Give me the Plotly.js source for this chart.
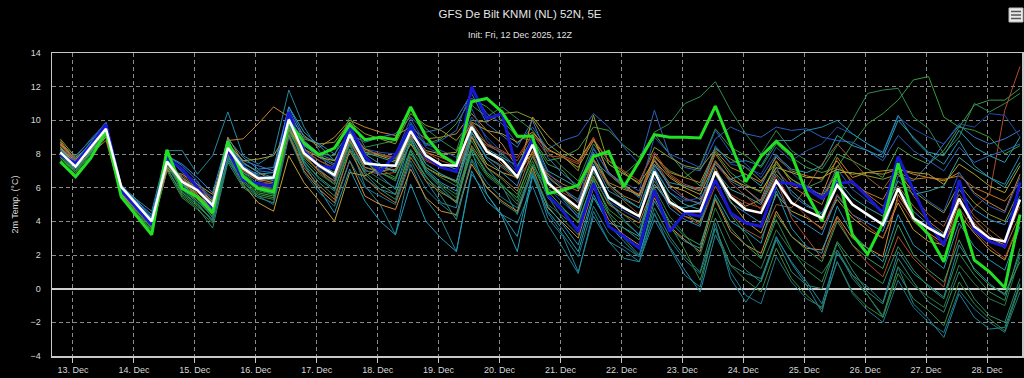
<!DOCTYPE html>
<html>
<head>
<meta charset="utf-8">
<script src="https://cdn.plot.ly/plotly-3.0.1.min.js"></script>
<style>
html,body{margin:0;padding:0;background:#000;}
#chart{width:1024px;height:378px;}
</style>
</head>
<body>
<div id="chart"></div>
<script>
// ---- data (°C, 6-hourly, local time, first step 12 Dec 19:00) ----
const startTime = '2025-12-12T19:00:00';
const stepHours = 6;
const dayTicks = ['2025-12-13','2025-12-14','2025-12-15','2025-12-16','2025-12-17','2025-12-18','2025-12-19','2025-12-20','2025-12-21','2025-12-22','2025-12-23','2025-12-24','2025-12-25','2025-12-26','2025-12-27','2025-12-28'];
const dayLabels = ['13. Dec','14. Dec','15. Dec','16. Dec','17. Dec','18. Dec','19. Dec','20. Dec','21. Dec','22. Dec','23. Dec','24. Dec','25. Dec','26. Dec','27. Dec','28. Dec'];

const ensMean = [8.1,7.25,8.4,9.5, 6.05,5.0,4.0,7.55, 6.35,5.85,4.95,8.35, 7.15,6.55,6.6,10.05,
 8.05,7.3,6.75,9.15, 7.45,7.35,7.3,9.35, 7.9,7.35,7.3,9.6, 8.15,7.65,6.65,8.55,
 6.3,5.5,4.8,7.25, 5.4,4.8,4.3,6.95, 5.15,4.6,4.6,6.95, 5.45,4.7,4.5,6.4,
 5.1,4.6,4.2,6.15, 5.0,4.4,3.8,5.95, 4.2,3.6,3.1,5.35, 3.7,3.0,2.8,5.3];

const operational = [7.55,6.65,7.75,9.35, 5.45,4.3,3.2,8.25, 5.95,5.45,4.5,8.75, 6.65,5.95,5.75,9.95,
 8.65,7.95,8.35,9.75, 8.85,9.0,8.85,10.8, 9.05,7.95,7.35,11.1, 11.3,10.5,9.05,9.05,
 5.65,5.85,6.15,7.85, 8.15,6.05,7.55,9.15, 9.0,9.0,8.95,10.85, 8.55,6.35,7.85,8.75,
 7.95,5.65,4.0,6.95, 3.2,2.05,3.9,7.45, 4.2,3.2,1.6,4.7, 1.7,1.0,0.05,4.4];

const control = [7.95,7.45,8.5,9.75, 5.85,4.85,3.8,7.75, 7.1,6.0,4.8,8.25, 6.45,6.25,6.05,10.5,
 8.15,7.3,7.15,9.65, 7.85,6.95,7.95,9.65, 7.85,7.2,6.95,12.0, 10.1,10.4,6.95,8.85,
 5.55,4.6,3.4,6.25, 3.7,3.1,2.4,5.85, 3.4,4.5,4.3,6.45, 4.5,3.9,3.7,6.3,
 6.25,5.95,5.35,6.25, 6.35,5.45,4.5,7.85, 5.85,3.9,2.6,6.45, 3.5,2.8,2.5,6.3];

const member01 = [8.6,7.9,8.8,9.9, 6.1,5.3,4.6,8.2, 8.2,6.8,7.9,10.5, 7.9,7.4,8.0,11.8, 9.6,8.2,6.5,8.6, 6.8,5.9,5.6,8.2, 6.4,5.1,4.8,9.1, 7.2,6.1,4.4,7.0, 4.2,3.1,1.0,4.3, 2.8,2.3,1.6,4.1, 2.5,1.1,-0.2,3.2, 1.4,0.9,0.6,3.0, 1.6,0.4,-0.9,2.1, 0.8,0.1,-0.8,2.2, 0.9,0.2,-0.5,2.6, 1.2,0.3,-0.4,2.1];
const member02 = [8.8,7.6,8.2,9.1, 5.7,4.9,3.9,7.4, 6.2,5.5,4.9,8.8, 8.9,9.8,10.8,10.2, 9.1,8.4,9.0,10.0, 9.6,9.3,9.1,9.6, 8.9,9.0,9.2,10.4, 9.4,8.6,7.2,8.0, 6.2,5.4,4.6,6.7, 5.0,4.4,3.9,6.2, 5.1,4.3,4.0,7.2, 5.5,4.9,5.3,7.6, 6.3,5.9,5.6,7.8, 6.6,6.9,6.8,7.1, 6.8,6.6,6.4,6.9, 5.7,5.1,4.6,6.8];
const member03 = [8.0,7.0,8.2,9.4, 5.9,4.8,3.7,7.3, 5.9,5.2,4.4,8.0, 6.9,6.2,6.3,9.7, 8.6,8.0,7.9,10.2, 8.4,8.6,8.8,10.6, 9.5,8.8,8.2,10.9, 10.2,10.8,10.1,9.4, 8.1,7.2,6.4,8.6, 7.4,6.8,7.6,9.3, 9.8,11.0,11.4,12.3, 10.6,9.2,8.0,9.4, 8.2,7.6,7.1,8.5, 10.0,11.6,11.8,11.9, 10.2,9.5,8.0,9.0, 11.0,10.5,11.0,11.6];
const member04 = [7.8,6.9,7.9,9.2, 5.5,4.4,3.5,7.8, 5.6,4.9,4.1,7.9, 6.3,5.6,5.4,9.6, 8.5,7.9,7.4,9.5, 8.1,8.0,7.7,9.4, 8.6,8.9,9.8,11.3, 10.8,10.0,9.0,8.8, 7.4,7.0,5.9,7.6, 6.8,6.0,5.5,7.8, 7.0,6.6,7.3,9.5, 8.4,7.9,7.2,8.6, 7.8,7.2,6.9,7.2, 8.6,9.8,10.4,11.2, 12.4,12.6,10.2,9.6, 9.4,9.0,8.0,8.5];
const member05 = [7.6,6.8,7.8,9.0, 5.6,4.5,3.4,7.1, 5.7,5.0,4.0,7.7, 6.4,5.7,5.5,9.3, 7.8,7.0,6.2,8.7, 7.2,6.9,6.5,8.8, 7.4,6.8,6.3,9.5, 8.6,8.0,7.2,8.9, 7.6,7.8,8.3,9.6, 9.4,8.5,7.8,9.2, 8.0,6.9,6.1,8.1, 6.9,6.2,5.7,7.4, 6.5,6.0,6.4,8.0, 7.6,7.1,6.6,8.4, 7.8,7.4,8.2,9.6, 10.9,11.2,11.2,11.9];
const member06 = [8.4,7.5,8.3,9.3, 5.8,4.6,3.8,7.2, 6.7,6.1,5.3,8.4, 6.8,6.0,5.9,9.8, 8.0,6.9,6.2,8.9, 7.0,6.8,6.9,8.6, 7.6,7.2,7.0,9.2, 8.5,8.1,7.8,9.2, 8.2,7.9,7.5,9.0, 6.8,6.1,5.6,7.7, 6.2,5.4,5.0,7.0, 5.6,5.1,4.8,6.5, 4.2,3.0,1.8,4.2, 2.6,1.5,0.7,3.1, 1.8,0.9,0.1,3.5, 4.8,5.6,10.6,13.2];
const member07 = [8.3,7.8,8.9,9.8, 6.0,5.1,4.2,7.9, 6.9,6.2,5.4,8.6, 7.4,7.0,6.9,10.4, 8.4,7.1,6.3,8.9, 7.0,6.9,7.3,9.8, 8.5,8.8,9.4,11.8, 10.4,9.8,8.6,9.6, 8.3,8.8,9.1,10.4, 9.6,8.4,7.4,10.6, 7.9,7.2,7.0,8.9, 9.6,9.2,9.0,9.6, 9.4,9.5,9.0,8.8, 8.7,8.2,7.6,9.1, 8.2,7.6,7.0,8.4, 7.5,7.9,8.2,8.6];
const member08 = [8.2,7.3,8.3,9.6, 6.0,5.2,4.3,7.6, 6.2,5.4,4.2,7.8, 6.6,5.9,5.6,9.8, 7.6,6.5,5.8,8.6, 6.1,5.0,3.2,7.4, 5.3,4.1,2.2,6.8, 5.6,4.4,3.9,6.1, 3.8,2.4,0.9,4.6, 2.8,1.8,1.6,4.5, 2.4,0.8,0.1,3.9, 0.6,-0.8,0.5,3.1, 1.5,0.2,-1.4,2.3, 0.6,-0.4,-1.7,1.3, -0.9,-1.8,-2.9,-0.3, -1.7,-2.4,-2.3,0.3];
const member09 = [8.7,7.5,8.1,9.2, 5.6,4.6,3.6,7.0, 6.8,6.2,5.6,8.2, 6.2,5.1,4.6,7.9, 6.3,5.2,4.0,6.9, 6.7,7.2,7.0,8.6, 7.2,6.7,6.4,9.0, 7.4,6.9,6.6,10.2, 9.1,8.2,7.6,8.9, 6.9,6.2,5.5,7.4, 6.1,5.8,5.3,6.8, 5.2,4.0,3.3,5.6, 4.6,4.2,3.6,5.3, 4.2,3.5,3.0,5.1, 3.5,2.8,2.6,4.4, 3.3,2.3,1.7,4.0];
const member10 = [7.9,7.1,8.2,9.5, 6.1,5.3,4.1,7.7, 6.5,5.8,4.6,8.8, 7.2,6.8,6.9,10.8, 9.3,8.5,7.6,9.4, 8.0,7.4,6.9,9.0, 6.9,6.0,5.1,8.2, 5.6,4.3,2.2,6.7, 4.6,3.5,2.2,5.4, 3.9,3.6,3.1,6.2, 5.0,4.8,5.1,7.6, 6.5,6.8,6.1,7.9, 7.1,6.9,7.3,9.1, 8.5,8.2,7.8,10.0, 9.0,8.1,7.9,9.4, 8.4,7.9,7.5,9.0];
const member11 = [8.5,7.6,8.6,9.6, 6.0,5.0,3.9,7.4, 6.0,5.3,4.6,8.0, 6.7,6.0,6.0,9.9, 8.2,7.6,7.1,9.4, 8.0,7.9,7.8,9.0, 7.7,7.2,6.9,9.1, 7.8,7.2,6.5,7.8, 6.3,5.7,5.2,7.6, 6.1,5.2,4.4,6.4, 5.0,4.3,3.8,6.1, 4.5,3.5,3.0,5.0, 4.8,6.0,7.4,8.6, 7.6,6.6,5.9,7.2, 5.5,4.4,3.7,5.6, 4.3,3.5,2.8,4.9];
const member12 = [8.0,7.2,8.1,9.3, 5.7,4.6,3.6,7.2, 5.5,4.8,3.6,7.5, 6.0,5.4,5.1,9.2, 7.4,6.3,5.5,8.2, 6.5,5.9,5.3,8.0, 6.7,5.5,4.1,7.6, 6.0,5.1,4.5,7.3, 5.5,4.1,3.2,6.0, 4.4,3.0,2.0,4.8, 3.1,1.9,1.0,4.2, 2.1,1.1,0.4,2.9, 1.0,0.2,0.0,2.7, 1.1,-0.2,-0.9,1.8, 0.4,-0.8,-1.4,1.0, -0.6,-1.6,-2.0,0.6];
const member13 = [8.2,7.7,8.6,9.7, 6.1,5.1,4.0,7.9, 7.3,6.4,5.0,8.5, 7.6,7.3,7.0,10.6, 8.8,8.0,7.6,9.2, 8.7,9.0,9.2,10.2, 9.3,9.5,10.1,11.6, 9.8,9.1,8.4,10.0, 7.8,6.8,6.1,8.3, 6.9,6.1,5.4,7.6, 6.0,5.3,5.1,7.4, 6.4,5.9,5.2,7.2, 5.6,4.9,4.5,6.4, 5.0,4.3,3.8,6.7, 6.4,7.4,8.6,9.7, 9.0,8.6,8.9,9.4];
const member14 = [8.9,7.8,8.5,9.2, 5.8,4.9,4.0,7.5, 6.4,5.5,4.5,8.1, 7.0,6.5,6.6,10.0, 8.9,8.6,8.7,9.9, 9.2,8.9,8.6,10.4, 9.7,9.4,8.8,10.0, 9.9,10.4,10.5,10.1, 8.6,7.9,7.0,10.3, 7.4,6.8,6.3,8.4, 7.8,7.3,7.1,8.3, 7.7,7.2,6.4,7.5, 6.5,5.9,5.4,6.9, 6.9,6.7,6.5,6.8, 5.8,5.1,4.5,6.2, 5.1,4.4,4.0,5.9];
const member15 = [8.6,7.5,8.3,9.4, 5.9,4.9,3.9,7.3, 6.6,6.0,5.2,9.0, 7.5,6.9,6.4,9.1, 7.0,5.9,5.1,7.6, 5.5,5.0,4.7,7.1, 5.4,4.6,4.4,7.4, 6.0,5.2,4.6,7.2, 4.8,3.9,3.0,6.0, 4.1,3.2,2.6,5.4, 3.7,2.9,2.2,5.3, 3.4,2.6,2.1,4.6, 3.1,2.4,2.3,4.3, 3.0,2.4,1.9,5.6, 4.2,3.3,2.7,5.1, 3.9,3.0,2.6,5.2];
const member16 = [8.3,7.4,8.4,9.6, 6.0,5.0,4.1,7.6, 6.1,5.4,4.7,8.1, 6.9,6.4,6.5,9.7, 7.4,5.9,4.5,7.1, 5.2,4.0,3.2,6.2, 4.0,3.0,2.2,7.0, 5.2,4.4,3.1,6.8, 4.9,3.8,2.6,5.6, 3.8,2.8,1.9,5.2, 3.6,2.8,2.4,5.6, 4.0,3.4,2.7,5.8, 3.6,2.5,2.1,4.9, 3.2,2.4,1.6,4.4, 2.6,1.9,1.2,3.9, 2.5,1.7,1.1,3.7];
const member17 = [7.7,6.9,8.0,9.1, 5.6,4.5,3.5,7.0, 5.4,4.7,3.9,7.7, 6.1,5.5,5.3,9.4, 7.9,7.3,6.8,8.8, 7.6,7.1,6.6,8.7, 7.2,6.6,6.1,8.8, 7.2,6.5,5.6,7.6, 5.4,4.7,4.0,6.4, 4.7,4.0,3.2,5.9, 3.8,2.3,0.5,3.6, 1.4,0.5,-0.2,2.4, 0.6,-0.4,-1.2,1.6, -0.2,-1.1,-1.7,0.9, -0.6,-1.3,-2.2,0.4, -0.9,-1.8,-2.5,0.2];
const member18 = [8.1,7.6,8.7,9.9, 6.2,5.2,4.2,7.8, 6.3,5.9,5.0,8.4, 7.1,6.6,6.7,10.3, 8.0,7.2,6.6,9.0, 7.4,7.2,7.4,9.9, 8.4,8.0,7.5,10.7, 8.8,7.9,6.9,8.5, 6.0,5.1,4.3,7.0, 5.2,4.6,4.1,7.2, 5.7,5.2,5.4,8.5, 7.4,7.2,6.8,8.4, 7.6,8.2,8.6,9.6, 9.2,8.6,8.0,10.2, 9.5,9.0,8.6,9.8, 9.6,10.4,10.3,9.0];
const member19 = [8.4,7.3,8.0,8.8, 5.5,4.7,3.7,7.1, 6.4,5.8,5.0,8.0, 6.8,6.0,5.8,9.1, 7.2,6.1,5.3,8.2, 6.6,5.7,5.1,7.8, 6.4,5.7,5.2,8.5, 7.2,6.6,5.8,8.2, 6.8,6.2,5.8,7.7, 6.2,5.5,5.1,7.9, 6.7,6.1,5.8,8.0, 6.7,5.9,5.1,7.0, 6.1,5.5,5.0,7.3, 6.4,5.6,4.9,6.1, 4.9,4.0,3.3,5.2, 4.1,3.2,2.4,4.4];
const member20 = [7.9,7.0,8.0,9.3, 5.8,4.8,3.8,7.4, 5.8,5.0,4.1,7.6, 6.5,5.8,5.6,9.5, 7.7,6.8,6.2,8.5, 7.1,6.5,6.0,8.3, 7.0,6.1,5.4,8.0, 6.7,6.0,5.0,7.0, 5.0,4.3,3.6,6.6, 5.1,4.4,3.6,6.0, 4.3,3.2,2.0,4.8, 2.9,1.9,1.2,3.5, 2.2,1.5,0.9,2.3, 0.8,-0.4,-1.6,1.3, 0.2,-0.5,-1.1,1.4, 0.3,-0.6,-1.0,1.9];
const member21 = [8.3,7.4,8.5,9.7, 6.0,5.1,4.0,7.5, 6.2,5.7,5.1,8.5, 7.3,6.7,6.4,10.2, 8.5,7.8,7.3,9.6, 8.1,7.8,7.5,9.6, 8.0,7.4,7.1,9.8, 8.3,7.8,7.3,9.0, 7.0,6.5,6.0,8.1, 6.2,5.4,4.8,7.1, 5.7,5.0,4.7,7.0, 5.9,5.5,5.0,6.8, 5.8,5.0,4.4,6.5, 5.4,4.8,4.3,6.4, 5.6,5.8,6.1,7.8, 7.1,6.6,6.0,7.5];
const member22 = [8.0,7.6,8.7,9.8, 6.1,5.2,4.4,7.9, 7.4,6.6,5.7,8.9, 7.8,7.1,7.2,10.8, 9.0,8.6,8.0,9.3, 7.6,6.7,5.9,8.9, 7.1,6.3,5.8,9.3, 7.7,6.9,6.1,8.9, 6.5,5.3,4.2,7.4, 5.2,4.1,3.2,6.6, 4.8,4.1,3.7,6.9, 5.1,4.5,3.9,6.0, 4.4,3.8,3.2,5.5, 4.4,3.9,3.4,6.0, 4.6,3.8,3.2,5.9, 4.7,4.1,3.8,5.5];
const member23 = [8.5,7.7,8.6,9.6, 5.9,5.0,4.2,7.7, 6.6,5.9,5.1,8.7, 7.5,6.9,6.6,10.1, 8.3,7.4,6.9,9.3, 7.6,7.3,7.0,9.1, 7.4,6.8,6.4,9.3, 7.8,7.3,6.6,8.6, 6.6,5.9,5.3,7.6, 5.8,5.3,4.8,7.3, 6.3,6.1,5.9,8.4, 7.5,7.6,7.3,8.8, 8.8,9.4,9.6,10.0, 9.2,8.6,8.1,10.3, 8.9,8.0,7.4,8.8, 7.3,6.6,6.2,7.9];
const member24 = [8.1,7.3,8.3,9.4, 5.9,4.9,3.9,7.6, 6.3,5.6,4.6,8.2, 6.8,6.1,6.0,9.6, 8.1,7.4,6.9,9.0, 7.5,6.9,6.4,8.9, 7.0,6.2,5.6,8.4, 6.9,6.2,5.2,7.4, 5.9,5.4,4.4,6.9, 5.5,4.9,4.3,7.0, 5.4,4.5,3.9,6.4, 4.4,3.2,1.8,4.1, 2.3,1.1,0.4,2.8, 1.6,0.9,0.3,2.5, 1.1,0.1,-0.6,2.1, 0.8,-0.2,-0.7,2.4];
const member25 = [8.6,7.7,8.4,9.3, 5.8,4.9,3.9,7.4, 6.3,5.6,4.7,8.3, 7.1,6.5,6.3,9.6, 7.9,7.0,6.4,8.8, 7.2,7.0,7.1,9.1, 8.1,7.8,7.4,9.7, 8.3,7.4,6.7,8.1, 6.7,5.9,5.1,7.7, 6.3,5.9,5.6,7.9, 6.9,6.6,6.3,8.2, 7.2,6.8,6.3,7.8, 7.0,6.7,6.5,7.6, 6.2,5.7,5.3,6.9, 6.5,6.6,6.5,6.7, 6.0,5.6,5.2,6.3];
const member26 = [8.0,7.5,8.5,9.6, 6.0,5.0,4.1,7.8, 7.0,6.3,5.3,8.6, 7.3,6.7,6.5,10.3, 8.6,7.8,7.3,9.5, 8.3,8.1,8.0,10.1, 8.6,8.2,7.8,10.2, 9.0,8.1,7.1,8.7, 6.9,6.0,5.1,8.4, 6.8,6.3,5.8,9.0, 8.0,7.6,7.2,9.4, 8.1,7.4,6.6,8.0, 6.9,6.1,5.5,7.1, 5.9,5.2,4.6,7.0, 6.0,5.2,4.6,6.9, 5.6,4.9,4.5,6.6];
const member27 = [8.2,7.2,8.0,9.2, 5.7,4.7,3.8,7.3, 5.9,5.1,4.0,7.6, 6.3,5.5,5.0,9.0, 6.9,5.7,4.9,7.6, 6.0,5.5,5.0,7.6, 5.9,5.0,4.3,7.7, 6.3,5.4,4.8,6.9, 4.5,3.2,1.9,4.9, 3.3,2.5,1.9,4.4, 2.9,1.7,0.9,3.6, 1.0,-0.4,-0.9,1.9, 0.4,-0.6,-1.1,1.6, -0.3,-1.3,-2.0,0.5, -1.1,-2.0,-2.6,-0.1, -1.2,-2.0,-2.6,-0.2];
const member28 = [8.4,7.4,8.2,9.0, 5.6,4.7,3.8,7.2, 6.5,5.9,5.2,8.6, 7.6,7.7,7.9,9.4, 8.3,7.8,7.6,9.2, 8.3,7.9,7.6,9.3, 8.2,8.0,8.1,9.9, 9.4,9.2,8.7,9.3, 8.3,7.8,7.2,8.8, 7.6,6.9,6.2,7.6, 6.6,6.0,5.6,7.5, 6.5,6.1,5.8,7.2, 6.9,6.6,6.6,7.1, 6.8,6.9,7.0,7.1, 6.9,6.8,6.2,7.4, 6.8,6.1,5.7,7.3];
const member29 = [7.8,7.0,8.1,9.4, 5.7,4.7,3.7,7.5, 6.0,5.2,4.3,7.9, 6.6,6.0,5.9,9.5, 7.5,6.6,5.9,8.3, 6.9,6.2,5.6,8.2, 6.6,5.8,5.1,8.3, 6.8,6.1,5.4,7.9, 5.8,4.8,3.9,6.5, 4.5,3.6,2.9,5.6, 4.0,3.1,2.6,5.4, 3.6,2.6,1.8,4.4, 3.1,2.3,1.6,4.0, 2.6,1.8,1.2,3.8, 2.0,1.1,0.4,2.9, 1.1,0.2,-0.3,1.6];
const member30 = [8.5,7.6,8.4,9.5, 5.9,4.9,3.9,7.5, 6.5,5.7,4.9,8.3, 7.0,6.4,6.2,9.9, 8.3,7.6,7.2,9.6, 8.2,8.0,7.8,9.6, 8.1,7.6,7.3,9.9, 8.6,8.2,7.6,9.2, 7.9,7.8,7.4,8.9, 7.6,7.0,6.4,8.1, 6.8,6.2,5.9,7.6, 6.3,5.5,4.7,6.7, 5.2,4.3,3.5,5.6, 4.4,3.7,3.0,5.3, 4.0,3.2,2.5,4.8, 3.4,2.5,1.8,4.1];

const members = [member01,member02,member03,member04,member05,member06,member07,member08,member09,member10,
                 member11,member12,member13,member14,member15,member16,member17,member18,member19,member20,
                 member21,member22,member23,member24,member25,member26,member27,member28,member29,member30];
const memberColors = ['#2688a0','#c8842a','#2e8b4e','#379a3a','#3f9a48','#b04a2c','#2a62c0','#1f8496','#c2a030','#2aa0b4',
                      '#9a5a2c','#2f8a6a','#3a74c4','#8c9a2c','#d88a34','#1f98b8','#3b8a3b','#1f4fa8','#b07236','#2a7a48',
                      '#36a0a0','#2b8ccc','#2592a8','#2f9050','#c07a28','#2456b8','#1d7a8c','#b0a030','#3c9a5a','#a84a30'];

// ---- build ----
const t0 = new Date(startTime + 'Z').getTime();
const times = ensMean.map((_, i) => {
  const d = new Date(t0 + i * stepHours * 3600000);
  return d.toISOString().slice(0, 16).replace('T', ' ');
});

const traces = [];
members.forEach((m, k) => {
  traces.push({x: times, y: m, type: 'scatter', mode: 'lines',
    line: {color: memberColors[k], width: 1}, hoverinfo: 'skip', showlegend: false});
});
traces.push({x: times, y: control, type: 'scatter', mode: 'lines', line: {color: '#1818d2', width: 3}, showlegend: false});
traces.push({x: times, y: operational, type: 'scatter', mode: 'lines', line: {color: '#22e022', width: 3}, showlegend: false});
traces.push({x: times, y: ensMean, type: 'scatter', mode: 'lines', line: {color: '#ffffff', width: 2.5}, showlegend: false});

// plot area in pixels: x 52..1022, y 53..356
const px = v => (v - 52) / 970;
const py = v => (356 - v) / 303;

const layout = {
  width: 1024, height: 378,
  paper_bgcolor: '#000000', plot_bgcolor: '#000000',
  margin: {l: 52, r: 2, t: 53, b: 22, pad: 0},
  font: {family: 'Liberation Sans, Arial, sans-serif', color: '#d8d8d8', size: 9},
  title: {text: 'GFS De Bilt KNMI (NL) 52N, 5E', font: {size: 11.5, color: '#e6e6e6'},
          x: 520 / 1024, xref: 'container', xanchor: 'center', y: 1 - 14 / 378, yref: 'container', yanchor: 'middle'},
  annotations: [{text: 'Init: Fri, 12 Dec 2025, 12Z', xref: 'paper', yref: 'paper', x: px(520), y: py(35),
                 xanchor: 'center', yanchor: 'middle', showarrow: false, font: {size: 9, color: '#e0e0e0'}}],
  xaxis: {
    type: 'date', range: ['2025-12-12 15:44', '2025-12-28 13:47'],
    tickvals: dayTicks, ticktext: dayLabels,
    ticks: 'outside', ticklen: 5, tickcolor: '#c8c8c8', tickwidth: 1,
    showgrid: true, gridcolor: '#8a8a8a', gridwidth: 1, griddash: '4px,3px',
    showline: true, linecolor: '#c8c8c8', linewidth: 1.5, mirror: true,
    tickfont: {size: 9, color: '#d8d8d8'}, zeroline: false, fixedrange: true
  },
  yaxis: {
    range: [-4, 14], dtick: 2, tick0: 0,
    ticks: '', showgrid: true, gridcolor: '#8a8a8a', gridwidth: 1, griddash: '4px,3px',
    zeroline: true, zerolinecolor: '#d0d0d0', zerolinewidth: 2,
    showline: true, linecolor: '#c8c8c8', linewidth: 1.5, mirror: true,
    tickfont: {size: 9, color: '#d8d8d8'}, ticklabelstandoff: 8,
    title: {text: '2m Temp. (°C)', font: {size: 9, color: '#d8d8d8'}, standoff: 10},
    fixedrange: true
  },
  shapes: [
    {type: 'rect', xref: 'paper', yref: 'paper', x0: px(1009), x1: px(1023), y0: py(22), y1: py(8),
     fillcolor: '#e8e8e8', line: {color: '#bbbbbb', width: 1}},
    {type: 'line', xref: 'paper', yref: 'paper', x0: px(1011), x1: px(1021), y0: py(11.5), y1: py(11.5), line: {color: '#555', width: 1.5}},
    {type: 'line', xref: 'paper', yref: 'paper', x0: px(1011), x1: px(1021), y0: py(15), y1: py(15), line: {color: '#555', width: 1.5}},
    {type: 'line', xref: 'paper', yref: 'paper', x0: px(1011), x1: px(1021), y0: py(18.5), y1: py(18.5), line: {color: '#555', width: 1.5}}
  ],
  showlegend: false,
  hovermode: false
};

Plotly.newPlot('chart', traces, layout, {displayModeBar: false, staticPlot: true});
</script>
</body>
</html>
